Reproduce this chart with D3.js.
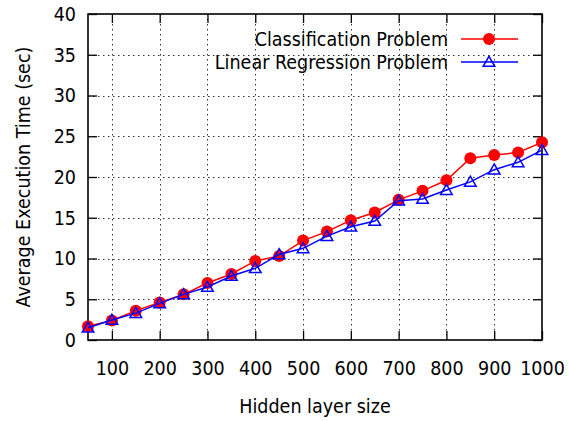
<!DOCTYPE html>
<html>
<head>
<meta charset="utf-8">
<script src="https://cdn.jsdelivr.net/npm/d3@7"></script>
<style>
  body { margin: 0; background: #fff; }
  text { font-family: "DejaVu Sans Condensed", "DejaVu Sans", sans-serif; font-stretch: condensed; fill: #000; }
</style>
</head>
<body>
<div id="chart"></div>
<script>
const width = 569, height = 421;

// hidden layer sizes
const sizes = [50, 100, 150, 200, 250, 300, 350, 400, 450, 500,
               550, 600, 650, 700, 750, 800, 850, 900, 950, 1000];
const classification = [1.7, 2.4, 3.6, 4.6, 5.6, 7.0, 8.1, 9.7, 10.3, 12.2,
                        13.3, 14.7, 15.65, 17.2, 18.3, 19.6, 22.3, 22.7, 23.0, 24.25];
const regression = [1.5, 2.45, 3.3, 4.5, 5.6, 6.5, 7.85, 8.8, 10.5, 11.25,
                    12.75, 13.9, 14.6, 17.1, 17.3, 18.4, 19.4, 20.9, 21.8, 23.3];
const xTicks = [100, 200, 300, 400, 500, 600, 700, 800, 900, 1000];
const yTicks = [0, 5, 10, 15, 20, 25, 30, 35, 40];

const margin = {top: 14, right: 27, bottom: 81, left: 88};
const iw = width - margin.left - margin.right,
      ih = height - margin.top - margin.bottom;
const fs = "19.5px";

const svg = d3.select("#chart")
	.append("svg")
	.attr("width", width)
	.attr("height", height);

const x = d3.scaleLinear().domain([50, 1000]).range([0, iw]);
const y = d3.scaleLinear().domain([0, 40]).range([ih, 0]);

const g = svg.append("g")
	.attr("transform", `translate(${margin.left},${margin.top})`);

// dotted grid
g.selectAll(".gx")
	.data(xTicks.filter(d => d < 1000))
	.enter().append("line")
	.attr("x1", d => Math.round(x(d)) + 0.5).attr("x2", d => Math.round(x(d)) + 0.5)
	.attr("y1", 0).attr("y2", ih)
	.attr("stroke", "#333").attr("stroke-width", 1)
	.attr("stroke-dasharray", "1.5,3.5");

g.selectAll(".gy")
	.data(yTicks.filter(d => d > 0 && d < 40))
	.enter().append("line")
	.attr("x1", 0).attr("x2", iw)
	.attr("y1", d => Math.round(y(d)) + 0.5).attr("y2", d => Math.round(y(d)) + 0.5)
	.attr("stroke", "#333").attr("stroke-width", 1)
	.attr("stroke-dasharray", "1.5,3.5");

// axes with inward ticks, mirrored on top and right
const tl = 9;
const fmt = d3.format("d");
const axBottom = g.append("g")
	.attr("transform", `translate(0,${ih})`)
	.call(d3.axisBottom(x).tickValues(xTicks).tickSize(-tl).tickPadding(21).tickFormat(fmt));
const axTop = g.append("g")
	.call(d3.axisTop(x).tickValues(xTicks).tickSize(-tl).tickFormat(""));
const axLeft = g.append("g")
	.call(d3.axisLeft(y).tickValues(yTicks).tickSize(-tl).tickPadding(12).tickFormat(fmt));
const axRight = g.append("g")
	.attr("transform", `translate(${iw},0)`)
	.call(d3.axisRight(y).tickValues(yTicks).tickSize(-tl).tickFormat(""));

[axBottom, axTop, axLeft, axRight].forEach(a => {
	a.select(".domain").remove();
	a.selectAll(".tick line").attr("stroke", "#000").attr("stroke-width", 1.3);
	a.selectAll("text").style("font-size", fs)
		.style("font-family", null);
	a.attr("font-family", null).attr("font-size", null);
});

g.append("rect")
	.attr("x", 0).attr("y", 0).attr("width", iw).attr("height", ih)
	.attr("fill", "none").attr("stroke", "#000").attr("stroke-width", 1.6);

// series
const series = [
	{name: "Classification Problem", values: classification, color: "#ff0000", shape: "circle"},
	{name: "Linear Regression Problem", values: regression, color: "#0000ff", shape: "triangle"}
];

const line = d3.line()
	.x((d, i) => x(sizes[i]))
	.y(d => y(d));

const tri = d3.symbol().type(d3.symbolTriangle).size(58);

function drawMarker(sel, s) {
	if (s.shape === "circle") {
		sel.append("circle").attr("r", 6).attr("fill", s.color);
	} else {
		sel.append("path").attr("d", tri())
			.attr("transform", "translate(0,1)")
			.attr("fill", "none").attr("stroke", s.color).attr("stroke-width", 1.5);
	}
}

series.forEach(s => {
	g.append("path")
		.datum(s.values)
		.attr("d", line)
		.attr("fill", "none")
		.attr("stroke", s.color)
		.attr("stroke-width", 1.5);

	g.selectAll(null)
		.data(s.values)
		.enter().append("g")
		.attr("transform", (d, i) => `translate(${x(sizes[i])},${y(d)})`)
		.each(function() { drawMarker(d3.select(this), s); });
});

// legend
const legend = svg.append("g");
series.forEach((s, i) => {
	const ly = 39 + i * 23;
	legend.append("text")
		.attr("x", 448).attr("y", ly)
		.attr("dy", "0.36em")
		.attr("text-anchor", "end")
		.style("font-size", fs)
		.text(s.name);
	legend.append("line")
		.attr("x1", 461).attr("x2", 518)
		.attr("y1", ly).attr("y2", ly)
		.attr("stroke", s.color).attr("stroke-width", 1.5);
	const m = legend.append("g").attr("transform", `translate(489,${ly})`);
	drawMarker(m, s);
});

// axis titles
svg.append("text")
	.attr("x", margin.left + iw / 2)
	.attr("y", 413)
	.attr("text-anchor", "middle")
	.style("font-size", fs)
	.text("Hidden layer size");

svg.append("text")
	.attr("transform", `translate(23,${margin.top + ih / 2}) rotate(-90)`)
	.attr("dy", "0.36em")
	.attr("text-anchor", "middle")
	.style("font-size", fs)
	.text("Average Execution Time (sec)");
</script>
</body>
</html>
